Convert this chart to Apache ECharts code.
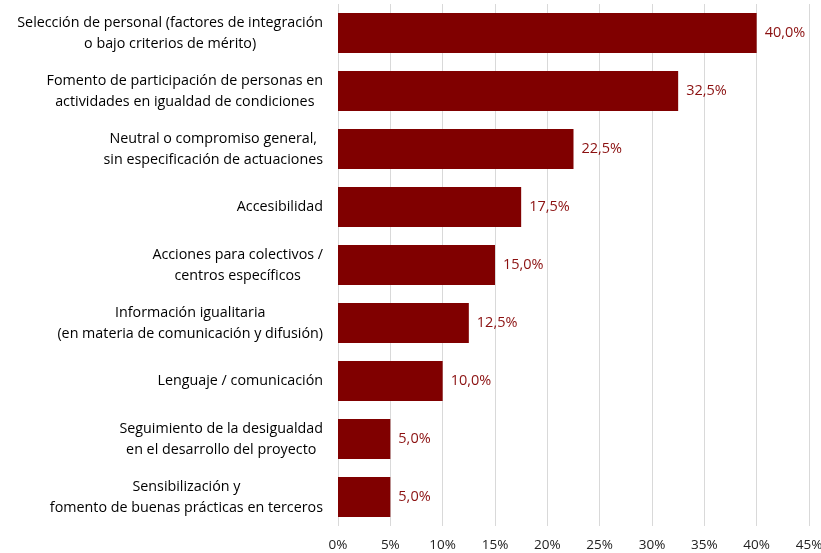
<!DOCTYPE html>
<html><head><meta charset="utf-8">
<script src="https://cdn.jsdelivr.net/npm/echarts@6/dist/echarts.min.js"></script>
<style>html,body{margin:0;padding:0;background:#fff}#c{width:821px;height:553px}</style>
</head><body><div id="c"></div>
<script>
const categories = [
  "Selección de personal (factores de integración\no bajo criterios de mérito)",
  "Fomento de participación de personas en\nactividades en igualdad de condiciones",
  "Neutral o compromiso general,\nsin especificación de actuaciones",
  "Accesibilidad",
  "Acciones para colectivos /\ncentros específicos",
  "Información igualitaria\n(en materia de comunicación y difusión)",
  "Lenguaje / comunicación",
  "Seguimiento de la desigualdad\nen el desarrollo del proyecto",
  "Sensibilización y\nfomento de buenas prácticas en terceros"
];
const values = [40.0, 32.5, 22.5, 17.5, 15.0, 12.5, 10.0, 5.0, 5.0];
const xTicks = [0, 5, 10, 15, 20, 25, 30, 35, 40, 45];

const FONT = "'Open Sans', 'Liberation Sans', sans-serif";
const chart = echarts.init(document.getElementById('c'));
chart.setOption({
  animation: false,
  grid: { left: 338, right: 12, top: 4, bottom: 27, containLabel: false, outerBoundsMode: 'none' },
  xAxis: {
    type: 'value', min: xTicks[0], max: xTicks[xTicks.length - 1], interval: 5,
    axisLine: { show: false }, axisTick: { show: false },
    splitLine: { show: true, lineStyle: { color: '#d9d9d9', width: 1 } },
    axisLabel: { formatter: v => v + '%', color: '#222', fontSize: 13.5, fontFamily: FONT, margin: 12 }
  },
  yAxis: {
    type: 'category', inverse: true, data: categories,
    axisLine: { show: false }, axisTick: { show: false },
    axisLabel: {
      margin: 15, align: 'right',
      formatter: v => '{c|' + v.split('\n').join('}\n{c|') + '}',
      rich: { c: { align: 'center', color: '#000', fontSize: 14.3, fontFamily: FONT, lineHeight: 21 } }
    }
  },
  series: [{
    type: 'bar', data: values, barCategoryGap: '31%',
    itemStyle: { color: '#800000' },
    label: {
      show: true, position: 'right', distance: 8,
      formatter: p => p.value.toFixed(1).replace('.', ',') + '%',
      color: '#8b1010', fontSize: 14.5, fontFamily: FONT
    }
  }]
});
</script></body></html>
